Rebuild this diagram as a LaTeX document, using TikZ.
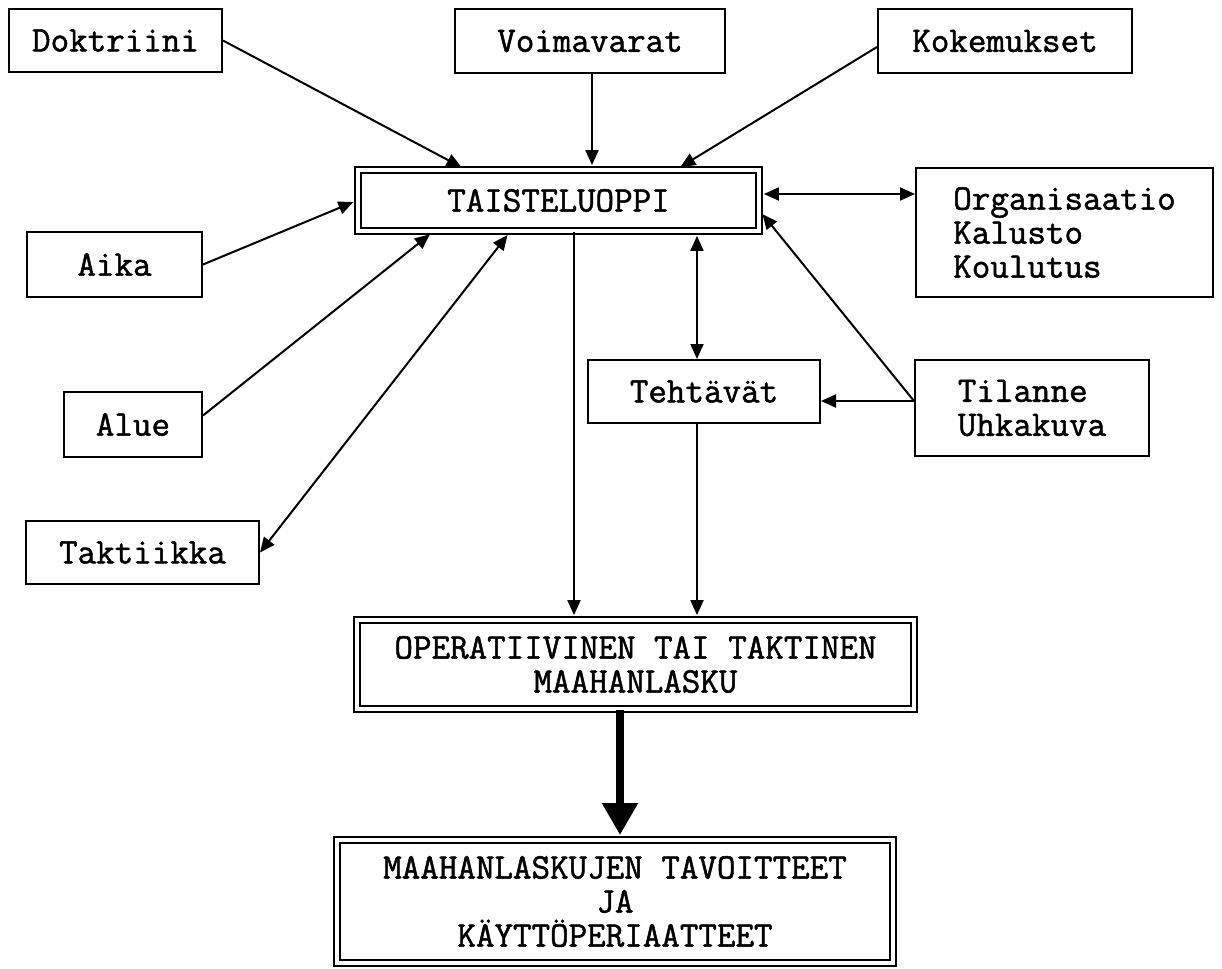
\documentclass[tikz,border=0pt]{standalone}
\usepackage{fontspec}
\newfontfamily\cour[FakeBold=1.4]{Latin Modern Mono}
\usetikzlibrary{arrows.meta,calc}

\begin{document}
\begin{tikzpicture}[x=0.5pt,y=-0.5pt,
  every node/.style={font=\cour\fontsize{18}{17}\selectfont},
  box/.style={draw,line width=1pt,inner sep=0pt,align=center},
  dbox/.style={draw,line width=0.9pt,double,double distance=2pt,inner sep=0pt,align=center},
  conn/.style={line width=1pt},
  arr/.style={conn,-{Triangle[length=7.5pt,width=6.5pt]}},
  arrs/.style={conn,{Triangle[length=7.5pt,width=6.5pt]}-{Triangle[length=7.5pt,width=6.5pt]}},
  big/.style={line width=4pt,-{Triangle[length=16pt,width=17pt]}}
]
\useasboundingbox (0,0) rectangle (1222,969);

% boxes
\node[box,minimum width=106.5pt,minimum height=31.5pt] (dok) at (115.5,40.5) {Doktriini};
\node[box,minimum width=135pt,minimum height=32pt] (voi) at (590,41) {Voimavarat};
\node[box,minimum width=127pt,minimum height=32pt] (kok) at (1005,41) {Kokemukset};
\node[dbox,minimum width=200.5pt,minimum height=30.5pt] (tai) at (558.5,200.5) {TAISTELUOPPI};
\node[box,align=left,minimum width=148.5pt,minimum height=64.5pt] (org) at (1064.5,232.5) {Organisaatio\\Kalusto\\Koulutus};
\node[box,minimum width=87.5pt,minimum height=32.5pt] (aika) at (114.5,264.5) {Aika};
\node[box,minimum width=69pt,minimum height=32.5pt] (alue) at (133,424.5) {Alue};
\node[box,minimum width=116.5pt,minimum height=31.5pt] (tak) at (142.5,552.5) {Taktiikka};
\node[box,minimum width=116pt,minimum height=31.5pt] (teh) at (704,391.5) {Tehtävät};
\node[box,align=left,minimum width=117pt,minimum height=48pt] (til) at (1032,408) {Tilanne\\Uhkakuva};
\node[dbox,minimum width=278.5pt,minimum height=44.5pt] (ope) at (635.5,664.5) {OPERATIIVINEN TAI TAKTINEN\\MAAHANLASKU};
\node[dbox,minimum width=278pt,minimum height=61.5pt] (mal) at (615,901.5) {MAAHANLASKUJEN TAVOITTEET\\JA\\KÄYTTÖPERIAATTEET};

% inputs to the doctrine box
\draw[arr,shorten >=2pt] (dok.east) -- (465,0 |- tai.north);
\draw[arr,shorten >=2pt] (592,0 |- voi.south) -- (592,0 |- tai.north);
\draw[arr,shorten >=2pt] ($(kok.west)+(0,6)$) -- (677,0 |- tai.north);
\draw[arr,shorten >=2pt] (aika.east) -- (tai.west);
\draw[arr,shorten >=2pt] ($(alue.east)+(0,-9)$) -- (433,0 |- tai.south);
\draw[arrs,shorten >=2pt] (tak.east) -- (510,0 |- tai.south);
\draw[arrs,shorten <=2pt] (tai.east |- 0,194) -- (org.west |- 0,194);
\draw[arr,shorten >=2pt] (til.west |- 0,401) -- (tai.east |- 0,211);
\draw[arr] (til.west |- 0,401) -- (teh.east |- 0,401);
\draw[arrs,shorten <=2pt] (697,0 |- tai.south) -- (697,0 |- teh.north);

% towards the landing
\draw[arr,shorten >=2pt] (574,0 |- tai.south) -- (574,0 |- ope.north);
\draw[arr,shorten >=2pt] (697,0 |- teh.south) -- (697,0 |- ope.north);
\draw[big,shorten >=2pt] (620,0 |- ope.south) -- (620,0 |- mal.north);
\end{tikzpicture}
\end{document}
